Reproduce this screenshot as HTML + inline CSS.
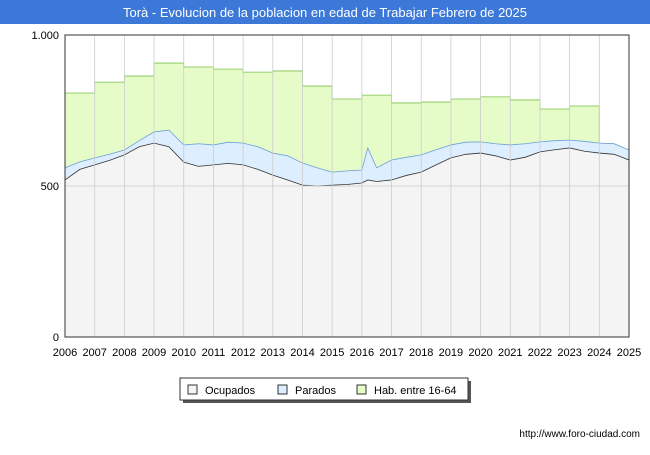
<!DOCTYPE html>
<html><head><meta charset="utf-8"><style>
body{margin:0;width:650px;height:450px;background:#fff;font-family:"Liberation Sans",sans-serif;overflow:hidden}
</style></head><body>
<svg id="c" width="650" height="450" xmlns="http://www.w3.org/2000/svg">
<rect x="0" y="0" width="650" height="24" fill="#3b78d8"/>
<text x="325" y="17" text-anchor="middle" font-size="13" fill="#fff">Torà - Evolucion de la poblacion en edad de Trabajar Febrero de 2025</text>
<g id="plot"></g>
<g>
<rect x="183" y="381" width="288" height="22" fill="#555"/>
<rect x="180" y="378" width="288" height="22" fill="#fff" stroke="#333"/>
<rect x="188" y="385" width="9" height="9" fill="#f4f4f4" stroke="#333"/>
<text x="205" y="394" font-size="11">Ocupados</text>
<rect x="278" y="385" width="9" height="9" fill="#ddeeff" stroke="#333"/>
<text x="295" y="394" font-size="11">Parados</text>
<rect x="357" y="385" width="9" height="9" fill="#e5fcc9" stroke="#333"/>
<text x="374" y="394" font-size="11">Hab. entre 16-64</text>
</g>
<text x="640" y="437" text-anchor="end" font-size="10">http://www.foro-ciudad.com</text>
</svg>
<script>
const habYears=[2006,2007,2008,2009,2010,2011,2012,2013,2014,2015,2016,2017,2018,2019,2020,2021,2022,2023];
const habValues=[808,844,864,907,894,887,877,881,831,788,801,775,778,788,795,785,755,765];
const seriesYears=[2006,2006.5,2007,2007.5,2008,2008.5,2009,2009.5,2010,2010.5,2011,2011.5,2012,2012.5,2013,2013.5,2014,2014.5,2015,2015.5,2016,2016.2,2016.5,2017,2017.5,2018,2018.5,2019,2019.5,2020,2020.5,2021,2021.5,2022,2022.5,2023,2023.5,2024,2024.5,2025];
const paradosValues=[560,580,593,605,619,650,679,685,636,640,636,645,642,630,609,600,576,560,546,550,553,626,560,586,595,603,620,636,645,646,640,636,640,646,650,652,648,642,640,619];
const ocupadosValues=[520,555,570,585,603,630,642,630,579,565,570,575,570,555,536,520,503,500,503,505,510,520,515,520,535,546,570,593,605,609,600,586,595,613,620,626,615,609,605,586];
const yTicks=[0,500,1000];
const yTickLabels=["0","500","1.000"];
const xTicks=[2006,2007,2008,2009,2010,2011,2012,2013,2014,2015,2016,2017,2018,2019,2020,2021,2022,2023,2024,2025];
const X0=65,X1=629,Y0=337,Y1=35;
const xs=v=>X0+(v-2006)/(2025-2006)*(X1-X0);
const ys=v=>Y0-v/1000*(Y0-Y1);
const NS="http://www.w3.org/2000/svg";
const g=document.getElementById('plot');
function mk(t,a){const e=document.createElementNS(NS,t);for(const k in a)e.setAttribute(k,a[k]);g.appendChild(e);return e;}
// hab area (step)
let d=`M${xs(2006)},${Y0}`;
habYears.forEach((yr,i)=>{d+=` L${xs(yr)},${ys(habValues[i])} L${xs(yr+1)},${ys(habValues[i])}`;});
d+=` L${xs(habYears[habYears.length-1]+1)},${ys(paradosValues[paradosValues.length-3])}`;
const lastHab=habYears[habYears.length-1]+1;
seriesYears.forEach((yr,i)=>{if(yr>lastHab)d+=` L${xs(yr)},${ys(paradosValues[i])}`;});
d+=` L${xs(2025)},${Y0} Z`;
let e=mk('path',{d:d,fill:'#e5fcc9',stroke:'#7bbf4a','stroke-width':0.8});

function area(vals,fill,stroke,name){let p=`M${xs(seriesYears[0])},${Y0}`;seriesYears.forEach((yr,i)=>{p+=` L${xs(yr)},${ys(vals[i])}`;});p+=` L${xs(seriesYears[seriesYears.length-1])},${Y0} Z`;
const a=mk('path',{d:p,fill:fill});
let l='';seriesYears.forEach((yr,i)=>{l+=(i?' L':'M')+xs(yr)+','+ys(vals[i]);});
const ln=mk('path',{d:l,fill:'none',stroke:stroke,'stroke-width':0.8});}
area(paradosValues,'#ddeeff','#6a9fd8','parados');
area(ocupadosValues,'#f4f4f4','#333','ocupados');
xTicks.forEach(t=>{const l=mk('line',{x1:xs(t),x2:xs(t),y1:Y1,y2:Y0,stroke:'#ccc','stroke-width':0.8});
const tx=mk('text',{x:xs(t),y:356,'text-anchor':'middle','font-size':11});tx.textContent=t;});
yTicks.forEach((t,i)=>{const l=mk('line',{x1:X0,x2:X1,y1:ys(t),y2:ys(t),stroke:'#ccc','stroke-width':0.8});
const tx=mk('text',{x:X0-6,y:ys(t)+4,'text-anchor':'end','font-size':11});tx.textContent=yTickLabels[i];});
const b=mk('rect',{x:X0,y:Y1,width:X1-X0,height:Y0-Y1,fill:'none',stroke:'#333'});

</script>
</body></html>
